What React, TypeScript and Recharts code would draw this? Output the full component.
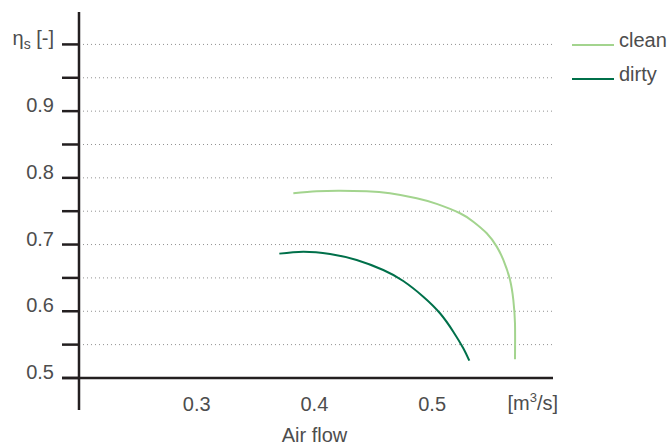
import React from 'react';
import { ComposedChart, Line, XAxis, YAxis, ReferenceLine, Legend } from 'recharts';

// ---- data ----
const cleanX = [0.3821, 0.402, 0.4218, 0.4444, 0.4642, 0.4869, 0.5039, 0.5237, 0.535, 0.5464, 0.5549, 0.5605, 0.5662, 0.569, 0.5704, 0.5704];
const cleanY = [0.7769, 0.7799, 0.7808, 0.7799, 0.7769, 0.7694, 0.7609, 0.7469, 0.7343, 0.7169, 0.6969, 0.6769, 0.6469, 0.6169, 0.582, 0.528];
const dirtyX = [0.3702, 0.3906, 0.4133, 0.4359, 0.4585, 0.4755, 0.4925, 0.5067, 0.518, 0.5265, 0.5316];
const dirtyY = [0.6864, 0.6894, 0.6859, 0.6769, 0.6619, 0.6454, 0.6219, 0.597, 0.5694, 0.5445, 0.5259];

const xTicks = [0.3, 0.4, 0.5];
const xTickLabels = ['0.3', '0.4', '0.5'];
const yTicks = [0.5, 0.6, 0.7, 0.8, 0.9, 1.0];
const yTickLabels = ['0.5', '0.6', '0.7', '0.8', '0.9', 'ηs'];
const gridValues = [0.55, 0.6, 0.65, 0.7, 0.75, 0.8, 0.85, 0.9, 0.95, 1.0];
const minorTickValues = [0.5, 0.55, 0.6, 0.65, 0.7, 0.75, 0.8, 0.85, 0.9, 0.95, 1.0];
const xAxisTitle = 'Air flow';
const seriesNames = ['clean', 'dirty'];

const X_MIN = 0.18556;
const X_MAX = 0.6027;
const X_ORIGIN = 0.2;
const Y_MIN = 0.452;
const Y_MAX = 1.0486;
const Y_ORIGIN = 0.5;

const cleanData = cleanX.map((x, i) => ({ x, y: cleanY[i] }));
const dirtyData = dirtyX.map((x, i) => ({ x, y: dirtyY[i] }));

const FONT = '"Liberation Sans", Arial, Helvetica, sans-serif';
const TEXT = '#4d4d4d';
const AXIS = '#231f20';
const CLEAN = '#a3d48e';
const DIRTY = '#00704a';

const YTick = (props: any) => {
  const { x, y, payload } = props;
  const idx = yTicks.indexOf(payload.value);
  const label = yTickLabels[idx];
  if (payload.value === 1.0) {
    return (
      <text x={x} y={y + 1} textAnchor="end" fontFamily={FONT} fontSize={20} fill={TEXT}>
        η<tspan fontSize={14} dy={4}>s</tspan>
        <tspan dy={-4}> [-]</tspan>
      </text>
    );
  }
  return (
    <text x={x} y={y + 1} textAnchor="end" fontFamily={FONT} fontSize={20} fill={TEXT}>
      {label}
    </text>
  );
};

const XTick = (props: any) => {
  const { x, y, payload } = props;
  const idx = xTicks.indexOf(payload.value);
  return (
    <text x={x} y={y + 1} textAnchor="middle" fontFamily={FONT} fontSize={20} fill={TEXT}>
      {xTickLabels[idx]}
    </text>
  );
};

const XLabel = (props: any) => {
  const vb = props.viewBox || {};
  const right = vb.x + vb.width + 5;
  const cx = vb.x + vb.width / 2 + 7;
  return (
    <g fontFamily={FONT} fontSize={20} fill={TEXT}>
      <text x={right} y={vb.y} textAnchor="end">
        [m<tspan fontSize={13} dy={-8}>3</tspan>
        <tspan dy={8}>/s]</tspan>
      </text>
      <text x={cx} y={vb.y + 32} textAnchor="middle">{xAxisTitle}</text>
    </g>
  );
};

const LegendContent = (props: any) => {
  const payload = props.payload || [];
  return (
    <svg width={97} height={62} style={{ display: 'block' }}>
      {payload.map((p: any, i: number) => (
        <g key={i}>
          <line x1={0} x2={42} y1={15 + i * 34} y2={15 + i * 34} stroke={p.color} strokeWidth={2} />
          <text x={47} y={17 + i * 34} fontFamily={FONT} fontSize={20} fill={TEXT}>
            {p.value}
          </text>
        </g>
      ))}
    </svg>
  );
};

export default function App() {
  return (
    <div style={{ position: 'absolute', left: 0, top: 0, width: 669, height: 445, background: '#fff' }}>
      <ComposedChart width={669} height={445} margin={{ top: 12, right: 116, bottom: 5, left: 0 }}>
        <XAxis
          type="number"
          dataKey="x"
          domain={[X_MIN, X_MAX]}
          ticks={xTicks}
          allowDataOverflow
          axisLine={false}
          tickLine={false}
          tickSize={0}
          tickMargin={0}
          height={30}
          tick={<XTick />}
          label={<XLabel />}
        />
        <YAxis
          type="number"
          dataKey="y"
          domain={[Y_MIN, Y_MAX]}
          ticks={yTicks}
          allowDataOverflow
          axisLine={false}
          tickLine={false}
          tickSize={0}
          tickMargin={8}
          width={62}
          tick={<YTick />}
        />
        {gridValues.map((v) => (
          <ReferenceLine
            key={'g' + v}
            segment={[{ x: X_ORIGIN, y: v }, { x: X_MAX, y: v }]}
            stroke="#8f8f8f"
            strokeWidth={1}
            strokeDasharray="1 3"
          />
        ))}
        {minorTickValues.map((v) => (
          <ReferenceLine
            key={'t' + v}
            segment={[{ x: X_MIN, y: v }, { x: X_ORIGIN, y: v }]}
            stroke={AXIS}
            strokeWidth={2.5}
          />
        ))}
        <Line
          data={cleanData}
          dataKey="y"
          name={seriesNames[0]}
          type="natural"
          stroke={CLEAN}
          strokeWidth={2}
          dot={false}
          activeDot={false}
          isAnimationActive={false}
        />
        <Line
          data={dirtyData}
          dataKey="y"
          name={seriesNames[1]}
          type="natural"
          stroke={DIRTY}
          strokeWidth={2}
          dot={false}
          activeDot={false}
          isAnimationActive={false}
        />
        <ReferenceLine x={X_ORIGIN} stroke={AXIS} strokeWidth={2.5} />
        <ReferenceLine y={Y_ORIGIN} stroke={AXIS} strokeWidth={2.5} />
        <Legend
          layout="horizontal"
          verticalAlign="middle"
          align="center"
          content={<LegendContent />}
          wrapperStyle={{ left: 572, top: 30, width: 97, height: 62 }}
        />
      </ComposedChart>
    </div>
  );
}
